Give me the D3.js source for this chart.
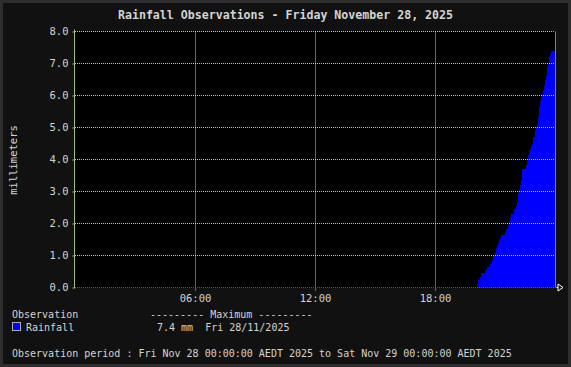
<!DOCTYPE html>
<html><head><meta charset="utf-8">
<script src="https://cdn.jsdelivr.net/npm/d3@7"></script>
<style>
html,body{margin:0;padding:0;background:#111;}
svg{display:block;}
text{font-family:"DejaVu Sans Mono",monospace;fill:#d4d4d4;white-space:pre;}
</style></head><body>
<script>
// Cumulative rainfall (mm) at minute of day (step changes)
const minutes = [0,1207,1210,1216,1219,1231,1235,1246,1250,1255,1261,1264,1267,1270,1273,1276,1279,1291,1294,1298,1303,1306,1309,1318,1324,1327,1330,1331,1336,1337,1340,1342,1351,1354,1357,1358,1360,1363,1366,1369,1372,1373,1375,1381,1382,1385,1388,1390,1393,1396,1399,1402,1405,1408,1409,1411,1414,1415,1417,1420,1421,1423,1426,1429,1440];
const rainfall = [0,0.12,0.22,0.33,0.44,0.54,0.64,0.75,0.85,0.98,1.12,1.23,1.31,1.40,1.50,1.54,1.65,1.73,1.83,1.96,2.06,2.19,2.31,2.44,2.54,2.67,2.96,3.06,3.21,3.35,3.52,3.71,3.73,3.82,3.94,4.00,4.13,4.28,4.34,4.42,4.50,4.61,4.69,4.92,5.03,5.13,5.21,5.32,5.65,5.84,5.94,6.05,6.15,6.30,6.38,6.48,6.60,6.82,6.92,7.00,7.11,7.21,7.32,7.40,7.40];
const yTicks = [0,1,2,3,4,5,6,7,8];
const xTicks = [360,720,1080];
const xTickLabels = ["06:00","12:00","18:00"];
const title = "Rainfall Observations - Friday November 28, 2025";
const yLabel = "millimeters";
const seriesName = "Rainfall";
const maxText = "7.4 mm  Fri 28/11/2025";
const periodText = "Observation period : Fri Nov 28 00:00:00 AEDT 2025 to Sat Nov 29 00:00:00 AEDT 2025";

const W=571,H=367;
const svg=d3.select("body").append("svg").attr("width",W).attr("height",H);
svg.append("rect").attr("width",W).attr("height",H).attr("fill","#2e2e2e");
svg.append("rect").attr("x",3).attr("y",3).attr("width",W-6).attr("height",H-6).attr("fill","#111111");

const x=d3.scaleLinear().domain([0,1440]).range([75,555]);
const y=d3.scaleLinear().domain([0,8]).range([287.5,31.5]);

svg.append("rect").attr("x",x(0)).attr("y",y(8)).attr("width",x(1440)-x(0)).attr("height",y(0)-y(8)).attr("fill","#000");

const data=minutes.map((m,i)=>({m,v:rainfall[i]}));
const area=d3.area().x(d=>x(d.m)).y0(y(0)).y1(d=>y(d.v)).curve(d3.curveStepAfter);
svg.append("path").datum(data).attr("d",area).attr("fill","#0000ff").attr("shape-rendering","crispEdges");

const gridCol="#b8cca0";
// horizontal grid
svg.append("g").selectAll("line").data(yTicks.filter(t=>t>0)).join("line")
  .attr("x1",x(0)).attr("x2",x(1440)).attr("y1",d=>y(d)).attr("y2",d=>y(d))
  .attr("stroke",gridCol).attr("stroke-dasharray","1,1").attr("stroke-width",1);
// vertical grid
svg.append("g").selectAll("line").data(xTicks).join("line")
  .attr("x1",d=>Math.round(x(d))+0.5).attr("x2",d=>Math.round(x(d))+0.5).attr("y1",y(8)).attr("y2",y(0)+3)
  .attr("stroke",gridCol).attr("stroke-dasharray","1,1").attr("stroke-width",1);
// zero line blue dotted
svg.append("line").attr("x1",x(0)).attr("x2",x(1440)).attr("y1",y(0)).attr("y2",y(0))
  .attr("stroke","#3050ff").attr("stroke-dasharray","1,1");
// right border
svg.append("line").attr("x1",x(1440)+0.5).attr("x2",x(1440)+0.5).attr("y1",y(8)).attr("y2",y(0))
  .attr("stroke","#8a8a40");
// left axis
svg.append("line").attr("x1",74.5).attr("x2",74.5).attr("y1",y(8)-2).attr("y2",y(0)+1).attr("stroke","#9cc070");
// y axis ticks + labels
const yAxis=d3.axisLeft(y).tickValues(yTicks).tickFormat(d3.format(".1f")).tickSize(2).tickPadding(4);
const ga=svg.append("g").attr("transform","translate(74.5,0)").call(yAxis);
ga.select(".domain").remove();
ga.selectAll(".tick line").attr("stroke","#9cc070");
ga.selectAll("text").attr("font-size",10.5).attr("fill","#d4d4d4").attr("font-family","DejaVu Sans Mono");
// bottom axis labels
const xAxis=d3.axisBottom(x).tickValues(xTicks).tickFormat((d,i)=>xTickLabels[i]).tickSize(0).tickPadding(7);
const gx=svg.append("g").attr("transform","translate(0,"+y(0)+")").call(xAxis);
gx.select(".domain").remove();
gx.selectAll("text").attr("font-size",10.5).attr("fill","#d4d4d4").attr("font-family","DejaVu Sans Mono");
// arrow
svg.append("path").attr("d",`M${x(1440)+1.5},${y(0)}H${x(1440)+3}M${x(1440)+3},${y(0)-3.5}L${x(1440)+8},${y(0)}L${x(1440)+3},${y(0)+3.5}Z`)
  .attr("fill","none").attr("stroke","#ffffff").attr("stroke-width",1);

// title
svg.append("text").attr("x",285.5).attr("y",19).attr("text-anchor","middle").attr("font-size",11.6).attr("font-weight","bold").text(title);
// y label
svg.append("text").attr("transform","translate(17,160) rotate(-90)").attr("text-anchor","middle").attr("font-size",10.5).text(yLabel);
// legend
svg.append("text").attr("x",12).attr("y",318).attr("font-size",10).text("Observation");
svg.append("text").attr("x",150).attr("y",318).attr("font-size",10).text("--------- Maximum ---------");
svg.append("rect").attr("x",12.5).attr("y",322.5).attr("width",8).attr("height",8).attr("fill","#0000ff").attr("stroke","#b0b0b0");
svg.append("text").attr("x",26).attr("y",331).attr("font-size",10).text(seriesName);
svg.append("text").attr("x",157).attr("y",331).attr("font-size",10).text(maxText);
svg.append("text").attr("x",12).attr("y",357).attr("font-size",10).text(periodText);
</script>
</body></html>
